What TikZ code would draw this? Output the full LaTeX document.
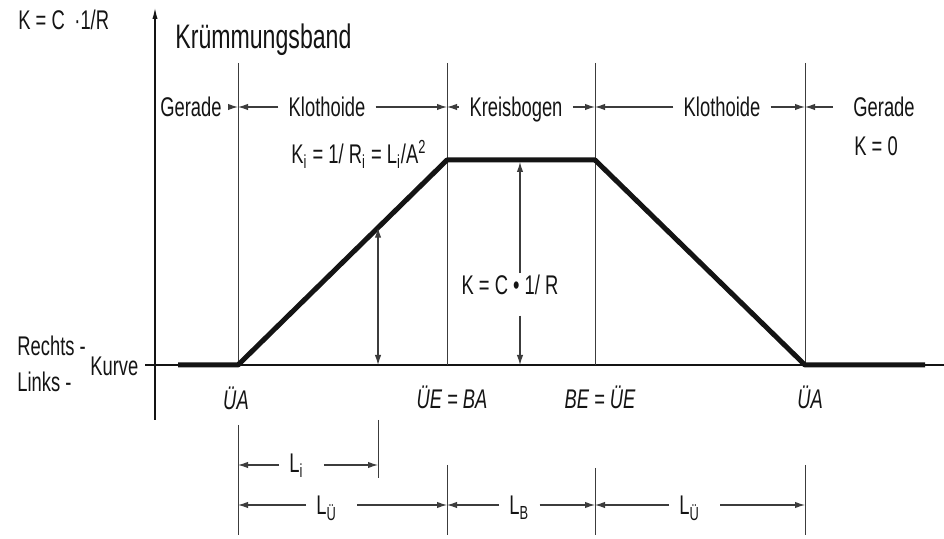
\documentclass[tikz,border=0pt]{standalone}
\usepackage{fontspec}
\setmainfont{Liberation Sans}[FakeStretch=0.68]
\usetikzlibrary{positioning,arrows.meta,calc}
\definecolor{InkBlack}{RGB}{20,20,20}
\definecolor{GuideGrey}{RGB}{60,60,60}
\tikzset{
  axisline/.style={-{Latex[length=6pt,width=2.6pt]},line width=0.8pt,draw=InkBlack},
  baseline/.style={line width=0.8pt,draw=InkBlack},
  band/.style={line width=2.5pt,draw=InkBlack,line join=round},
  guide/.style={line width=0.45pt,draw=GuideGrey},
  dimflow/.style={-{Latex[length=5pt,width=3.2pt]},line width=0.55pt,draw=GuideGrey},
  dimboth/.style={{Latex[length=5pt,width=3.2pt]}-{Latex[length=5pt,width=3.2pt]},line width=0.55pt,draw=GuideGrey},
  lbl/.style={font=\fontsize{13.5}{15}\selectfont,inner xsep=5pt,inner ysep=1pt,text=InkBlack},
  pointlbl/.style={lbl,font=\fontsize{13.5}{15}\selectfont\itshape},
  titlelbl/.style={font=\fontsize{17}{19}\selectfont,inner sep=0pt,text=InkBlack}
}

\begin{document}
\begin{tikzpicture}[x=0.5pt,y=-0.5pt]
  \useasboundingbox (0,0) rectangle (944,539);
  % stations on the band
  \coordinate (o) at (155,365);
  \coordinate (ua1) at (238,365);
  \coordinate (ueba) at (447,160);
  \coordinate (beue) at (595,160);
  \coordinate (ua2) at (805,365);
  \coordinate (bandL) at (178,365);
  \coordinate (bandR) at (925,365);
  \coordinate (gtop) at (0,63);
  % axes
  \coordinate (ytop) at (155,7);
  \coordinate (ybot) at (155,420);
  \coordinate (xleft) at (145,365);
  \coordinate (xright) at (944,365);
  \draw[axisline] (ybot) -- (ytop);
  \draw[baseline] (xleft) -- (xright);
  % guide lines
  \draw[guide] (ua1 |- gtop) -- (ua1);
  \draw[guide] (ueba |- gtop) -- (ueba |- o);
  \draw[guide] (beue |- gtop) -- (beue |- o);
  \draw[guide] (ua2 |- gtop) -- (ua2);
  % curvature band
  \draw[band] (bandL) -- (ua1) -- (ueba) -- (beue) -- (ua2) -- (bandR);

  \node[titlelbl,anchor=west] (title) at (175,40) {Krümmungsband};
  \node[lbl,anchor=west,inner xsep=0pt] (kform) at (18,20) {K = C \,·1/R};
  \node[lbl,anchor=west,inner xsep=0pt] (rechts) at (17,346) {Rechts -};
  \node[lbl,anchor=west,inner xsep=0pt] (links) at (17,382) {Links -};
  \node[lbl,anchor=west,inner xsep=0pt] (kurve) at (90,366) {Kurve};

  % sections
  \coordinate (t1) at (238,107);
  \coordinate (t2) at (447,107);
  \coordinate (t3) at (595,107);
  \coordinate (t4) at (805,107);
  \node[lbl,anchor=base] (ger1) at (191,117) {Gerade};
  \node[lbl,anchor=base] (klo1) at (327,117) {Klothoide};
  \node[lbl,anchor=base] (kreis) at (516,117) {Kreisbogen};
  \node[lbl,anchor=base] (klo2) at (722,117) {Klothoide};
  \node[lbl,anchor=base west,inner xsep=0pt] (ger2) at (853,117) {Gerade};
  \node[lbl,anchor=base west,inner xsep=0pt] (k0) at (854,156) {K = 0};
  \draw[dimflow] (ger1.east |- t1) -- (t1);
  \draw[dimflow] (klo1.west |- t1) -- (t1);
  \draw[dimflow] (klo1.east |- t2) -- (t2);
  \draw[dimflow] (kreis.west |- t2) -- (t2);
  \draw[dimflow] (kreis.east |- t3) -- (t3);
  \draw[dimflow] (klo2.west |- t3) -- (t3);
  \draw[dimflow] (klo2.east |- t4) -- (t4);
  \draw[dimflow] ([xshift=-10pt]ger2.west |- t4) -- (t4);

  % curvature values
  \node[lbl,anchor=base west,inner xsep=0pt] (kiform) at (291,164)
    {K\textsubscript{i} = 1/ R\textsubscript{i} = L\textsubscript{i}/A\textsuperscript{2}};
  \coordinate (liTop) at ($(ua1)!0.67!(ueba)$);
  \coordinate (liBot) at (liTop |- o);
  \draw[dimboth] (liTop) -- (liBot);
  \node[lbl,anchor=base] (kc) at (510,295) {K = C • 1/ R};
  \coordinate (kTop) at (520,162);
  \coordinate (kBot) at (520,365);
  \draw[dimflow] (kc.north -| kTop) -- (kTop);
  \draw[dimflow] ($(kc.south -| kBot)+(0,18)$) -- (kBot);

  % points
  \node[pointlbl,anchor=base] (lua1) at (236,410) {ÜA};
  \node[pointlbl,anchor=base] (lueba) at (452,409) {ÜE = BA};
  \node[pointlbl,anchor=base] (lbeue) at (600,409) {BE = ÜE};
  \node[pointlbl,anchor=base] (lua2) at (810,409) {ÜA};

  % lengths
  \coordinate (d1a) at (238,465);
  \coordinate (d1b) at (378,465);
  \coordinate (d2a) at (238,505);
  \coordinate (d2b) at (447,505);
  \coordinate (d2c) at (595,505);
  \coordinate (d2d) at (805,505);
  \draw[guide] (238,425) -- (238,535);
  \draw[guide] (378,420) -- (378,478);
  \draw[guide] (447,465) -- (447,535);
  \draw[guide] (595,468) -- (595,535);
  \draw[guide] (805,465) -- (805,535);
  \node[lbl,anchor=base west] (li) at (279,473) {L\textsubscript{i}};
  \node[lbl,anchor=base west] (lu1) at (306,515) {L\textsubscript{Ü}};
  \node[lbl,anchor=base west] (lb) at (499,515) {L\textsubscript{B}};
  \node[lbl,anchor=base west] (lu2) at (669,515) {L\textsubscript{Ü}};
  \draw[dimflow] (li.west |- d1a) -- (d1a);
  \draw[dimflow] ([xshift=5pt]li.east |- d1b) -- (d1b);
  \draw[dimflow] (lu1.west |- d2a) -- (d2a);
  \draw[dimflow] ([xshift=5pt]lu1.east |- d2b) -- (d2b);
  \draw[dimflow] (lb.west |- d2b) -- (d2b);
  \draw[dimflow] (lb.east |- d2c) -- (d2c);
  \draw[dimflow] (lu2.west |- d2c) -- (d2c);
  \draw[dimflow] ([xshift=5pt]lu2.east |- d2d) -- (d2d);
\end{tikzpicture}
\end{document}
